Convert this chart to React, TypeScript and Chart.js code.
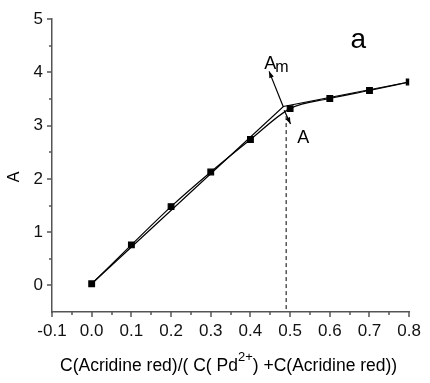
import { useEffect, useRef } from 'react';
import { Chart, registerables } from 'chart.js';

Chart.register(...registerables);

// Mole ratio C(Acridine red) / (C(Pd2+) + C(Acridine red)) and absorbance
const ratios = [0, 0.1, 0.2, 0.3, 0.4, 0.5, 0.6, 0.7, 0.8];
const absorbance = [0.03, 0.76, 1.48, 2.13, 2.74, 3.32, 3.51, 3.66, 3.82];

// Tangent lines of the rising and plateau parts, meeting at Am
const tangentX = [0, 0.483, 0.8];
const tangentY = [0.03, 3.36, 3.82];

// Dashed drop line at the complex ratio
const dropX = [0.49, 0.49];
const dropY = [3.18, -0.5];

const xMajorTicks = [-0.1, 0, 0.1, 0.2, 0.3, 0.4, 0.5, 0.6, 0.7, 0.8];
const yMajorTicks = [0, 1, 2, 3, 4, 5];

const FONT = '"Liberation Sans", Arial, sans-serif';
const AXIS_COLOR = '#555555';

const pts = (xs: number[], ys: number[]) => xs.map((x, i) => ({ x, y: ys[i] }));

function arrow(ctx: CanvasRenderingContext2D, x1: number, y1: number, x2: number, y2: number) {
  const ang = Math.atan2(y2 - y1, x2 - x1);
  const len = 7;
  ctx.beginPath();
  ctx.moveTo(x1, y1);
  ctx.lineTo(x2, y2);
  ctx.stroke();
  ctx.beginPath();
  ctx.moveTo(x2, y2);
  ctx.lineTo(x2 - len * Math.cos(ang - 0.35), y2 - len * Math.sin(ang - 0.35));
  ctx.lineTo(x2 - len * Math.cos(ang + 0.35), y2 - len * Math.sin(ang + 0.35));
  ctx.closePath();
  ctx.fill();
}

const decorations = {
  id: 'decorations',
  afterDraw(chart: Chart) {
    const { ctx, chartArea } = chart;
    const xs = chart.scales.x;
    const ys = chart.scales.y;
    const px = (v: number) => xs.getPixelForValue(v);
    const py = (v: number) => ys.getPixelForValue(v);
    ctx.save();

    // tick marks, outward
    ctx.strokeStyle = AXIS_COLOR;
    ctx.lineWidth = 1.5;
    ctx.beginPath();
    xMajorTicks.forEach((t) => {
      const x = Math.round(px(t));
      ctx.moveTo(x, chartArea.bottom);
      ctx.lineTo(x, chartArea.bottom + 5);
      if (t < 0.8) {
        const xm = Math.round(px(t + 0.05));
        ctx.moveTo(xm, chartArea.bottom);
        ctx.lineTo(xm, chartArea.bottom + 3);
      }
    });
    yMajorTicks.forEach((t) => {
      const y = Math.round(py(t));
      ctx.moveTo(chartArea.left, y);
      ctx.lineTo(chartArea.left - 5, y);
      if (t < 5) {
        const ym = Math.round(py(t + 0.5));
        ctx.moveTo(chartArea.left, ym);
        ctx.lineTo(chartArea.left - 3, ym);
      }
    });
    ctx.stroke();

    // arrows
    ctx.strokeStyle = '#000';
    ctx.fillStyle = '#000';
    ctx.lineWidth = 1.2;
    arrow(ctx, px(0.483), py(3.35), px(0.447), py(4.02));
    arrow(ctx, px(0.485), py(3.29), px(0.501), py(3.03));

    // labels
    ctx.fillStyle = '#000';
    ctx.textBaseline = 'alphabetic';
    ctx.textAlign = 'left';
    ctx.font = `28px ${FONT}`;
    ctx.fillText('a', px(0.652), py(4.6) + 8);
    ctx.font = `18px ${FONT}`;
    const amX = px(0.435);
    const amY = py(4.06);
    ctx.fillText('A', amX, amY);
    const aw = ctx.measureText('A').width;
    ctx.font = `16px ${FONT}`;
    ctx.fillText('m', amX + aw - 1, amY + 3);
    ctx.font = `18px ${FONT}`;
    ctx.fillText('A', px(0.5177), py(2.67));

    // y axis title
    ctx.save();
    ctx.translate(19, 177);
    ctx.rotate(-Math.PI / 2);
    ctx.textAlign = 'center';
    ctx.font = `16px ${FONT}`;
    ctx.fillText('A', 0, 0);
    ctx.restore();

    // x axis title with superscript
    const parts: [string, boolean][] = [
      ['C(Acridine red)/( C( Pd', false],
      ['2+', true],
      [') +C(Acridine red))', false],
    ];
    const base = 17.5;
    const sup = 13;
    let total = 0;
    parts.forEach(([s, isSup]) => {
      ctx.font = `${isSup ? sup : base}px ${FONT}`;
      total += ctx.measureText(s).width;
    });
    let x = (chartArea.left + chartArea.right) / 2 - total / 2 - 2;
    const yBase = 371;
    parts.forEach(([s, isSup]) => {
      ctx.font = `${isSup ? sup : base}px ${FONT}`;
      ctx.fillText(s, x, isSup ? yBase - 10 : yBase);
      x += ctx.measureText(s).width;
    });

    ctx.restore();
  },
};

export default function App() {
  const ref = useRef<HTMLCanvasElement | null>(null);

  useEffect(() => {
    if (!ref.current) return;
    const chart = new Chart(ref.current, {
      type: 'line',
      data: {
        datasets: [
          {
            data: pts(tangentX, tangentY),
            borderColor: '#000',
            borderWidth: 1.2,
            pointRadius: 0,
            tension: 0,
          },
          {
            data: pts(ratios, absorbance),
            borderColor: '#000',
            backgroundColor: '#000',
            borderWidth: 1.2,
            pointStyle: 'rect',
            pointRadius: 4,
            cubicInterpolationMode: 'monotone',
          },
          {
            data: pts(dropX, dropY),
            borderColor: '#000',
            borderWidth: 1,
            borderDash: [4, 3],
            pointRadius: 0,
          },
        ],
      },
      options: {
        responsive: false,
        animation: false,
        layout: { padding: { top: 19, right: 16, left: 0, bottom: 0 } },
        plugins: {
          legend: { display: false },
          tooltip: { enabled: false },
        },
        scales: {
          x: {
            type: 'linear',
            min: -0.1,
            max: 0.8,
            grid: { display: false, drawTicks: false },
            border: { display: true, color: AXIS_COLOR, width: 1.5 },
            ticks: {
              stepSize: 0.1,
              autoSkip: false,
              maxRotation: 0,
              padding: 9,
              color: '#111',
              font: { family: FONT, size: 17 },
              callback: (v) => Number(v).toFixed(1),
            },
            afterFit: (s) => {
              s.height = 71;
            },
          },
          y: {
            type: 'linear',
            min: -0.5,
            max: 5,
            grid: { display: false, drawTicks: false },
            border: { display: true, color: AXIS_COLOR, width: 1.5 },
            ticks: {
              stepSize: 1,
              autoSkip: false,
              padding: 9,
              color: '#111',
              font: { family: FONT, size: 17 },
              callback: (v) => (Number(v) === -0.5 ? '' : String(v)),
            },
            afterFit: (s) => {
              s.width = 52;
            },
          },
        },
      },
      plugins: [decorations],
    });
    return () => chart.destroy();
  }, []);

  return (
    <div style={{ position: 'fixed', left: 0, top: 0, width: 430, height: 383, background: '#fff' }}>
      <canvas ref={ref} width={430} height={383} />
    </div>
  );
}
